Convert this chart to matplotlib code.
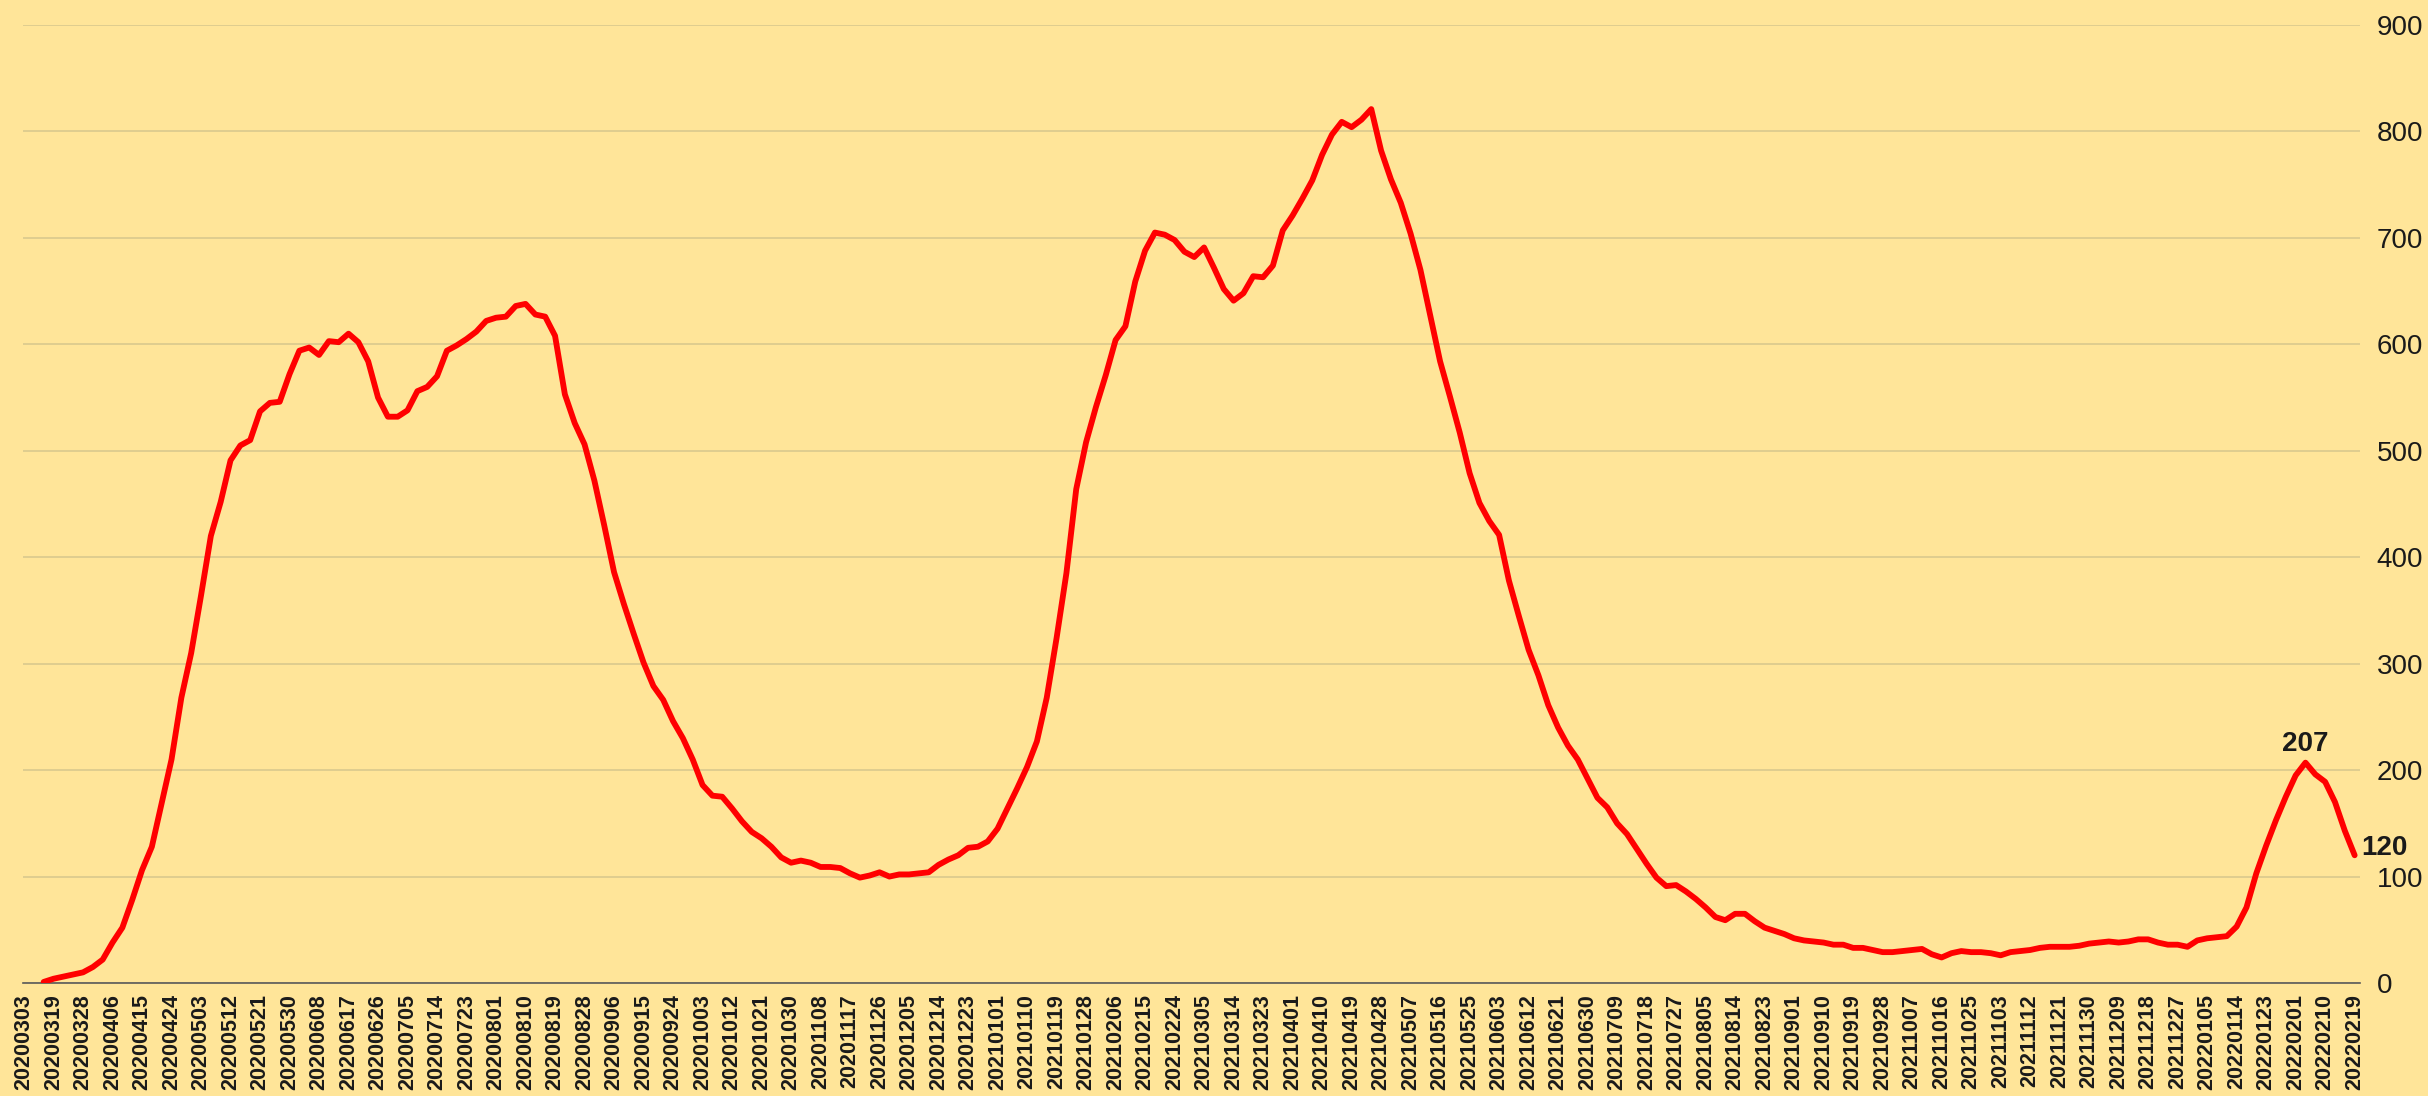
import matplotlib
matplotlib.use("Agg")
import matplotlib.pyplot as plt
import numpy as np
import pandas as pd

# category axis: first day, then daily from 11 March 2020
dates = ["20200303"] + pd.date_range("2020-03-11", "2022-02-19").strftime("%Y%m%d").tolist()

# values read every 3 days, starting 20200316
first_day = "20200316"
step_days = 3
cases = [
    1, 4, 6, 8, 10, 15, 22, 38, 52, 78,
    106, 128, 169, 210, 268, 310, 364, 420, 452, 491,
    505, 510, 537, 545, 546, 572, 594, 597, 590, 603,
    602, 610, 602, 584, 550, 532, 532, 538, 556, 560,
    570, 594, 599, 605, 612, 622, 625, 626, 636, 638,
    628, 626, 608, 553, 526, 506, 472, 430, 386, 356,
    328, 301, 279, 266, 246, 230, 210, 186, 176, 175,
    164, 152, 142, 136, 128, 118, 113, 115, 113, 109,
    109, 108, 103, 99, 101, 104, 100, 102, 102, 103,
    104, 111, 116, 120, 127, 128, 133, 145, 164, 183,
    203, 227, 268, 324, 385, 464, 508, 541, 571, 604,
    617, 659, 688, 705, 703, 698, 687, 682, 691, 672,
    652, 641, 648, 664, 663, 674, 707, 721, 737, 754,
    778, 797, 809, 804, 811, 821, 782, 755, 733, 704,
    670, 627, 584, 551, 517, 479, 451, 434, 421, 378,
    345, 313, 289, 261, 240, 223, 210, 192, 174, 165,
    150, 140, 126, 112, 99, 91, 92, 86, 79, 71,
    62, 59, 65, 65, 58, 52, 49, 46, 42, 40,
    39, 38, 36, 36, 33, 33, 31, 29, 29, 30,
    31, 32, 27, 24, 28, 30, 29, 29, 28, 26,
    29, 30, 31, 33, 34, 34, 34, 35, 37, 38,
    39, 38, 39, 41, 41, 38, 36, 36, 34, 40,
    42, 43, 44, 53, 71, 103, 129, 153, 175, 195,
    207, 196, 189, 170, 143, 120,
]

y_ticks = list(range(0, 1000, 100))
label_every = 9
last_wave_points = 15  # the labelled peak is the top of the last wave

bg = "#FFE599"
start = dates.index(first_day)
x = np.arange(start, start + step_days * len(cases), step_days)

fig = plt.figure(figsize=(24.28, 10.96), dpi=100, facecolor=bg)
ax = fig.add_axes([0.00935, 0.1031, 0.9626, 0.8741], facecolor=bg)

ax.plot(x, cases, color="#FF0000", lw=4.2, solid_joinstyle="round", solid_capstyle="round", zorder=3)

ax.set_xlim(-0.4, 712.6)
ax.set_ylim(0, 900)
ax.set_yticks(y_ticks)
ax.yaxis.tick_right()
ax.grid(axis="y", color="#d6c68c", lw=1.1)
ax.set_axisbelow(True)

tick_pos = list(range(0, len(dates), label_every))
ax.set_xticks(tick_pos)
ax.set_xticklabels([dates[i] for i in tick_pos], rotation=90,
                   fontfamily="Liberation Sans", fontweight="bold", fontsize=15.5, color="#1a1a1a")
ax.tick_params(axis="x", length=0, pad=8)
ax.tick_params(axis="y", length=0, pad=12, labelsize=20, labelcolor="#1a1a1a")
for lbl in ax.get_yticklabels():
    lbl.set_fontfamily("Liberation Sans")

for s in ("top", "left", "right"):
    ax.spines[s].set_visible(False)
ax.spines["bottom"].set_color("#595959")
ax.spines["bottom"].set_linewidth(1.2)

# peak of the last wave and last value labels
k = len(cases) - last_wave_points + int(np.argmax(cases[-last_wave_points:]))
ax.annotate(str(cases[k]), (x[k], cases[k]), xytext=(0, 4), textcoords="offset points",
            ha="center", va="bottom", fontsize=20, fontweight="bold",
            fontfamily="Liberation Sans", color="#1a1a1a", annotation_clip=False)
ax.annotate(str(cases[-1]), (x[-1], cases[-1]), xytext=(5, 5), textcoords="offset points",
            ha="left", va="center", fontsize=20, fontweight="bold",
            fontfamily="Liberation Sans", color="#1a1a1a", annotation_clip=False)

fig.savefig("out.png", dpi=100, facecolor=bg)
